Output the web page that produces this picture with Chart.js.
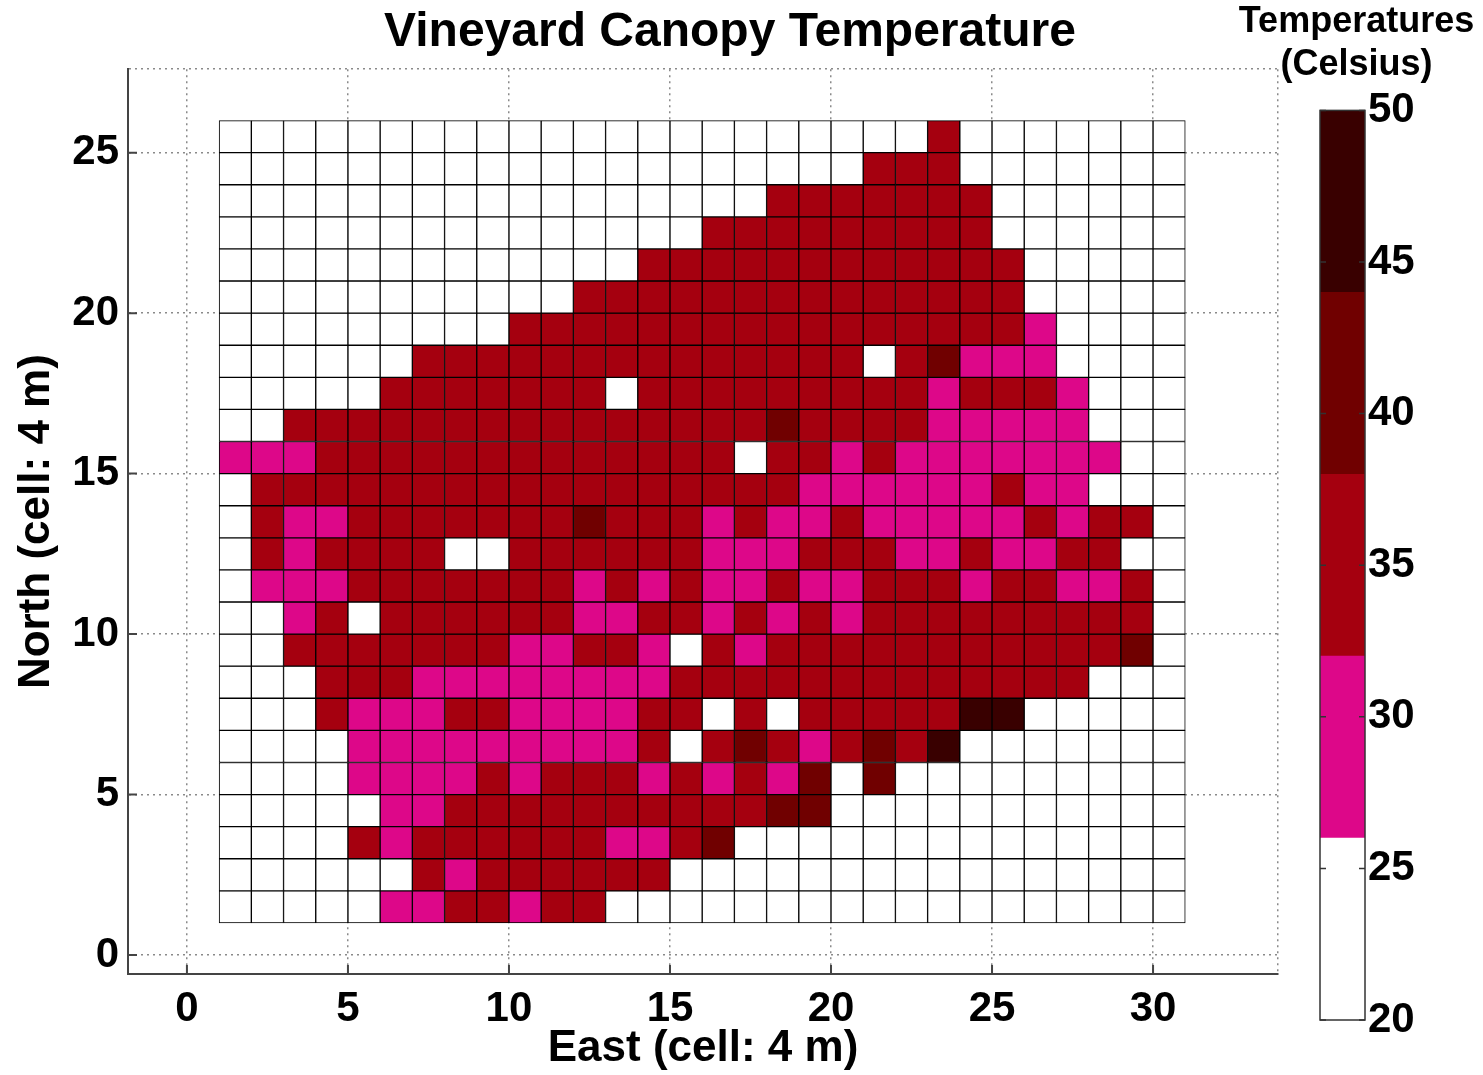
<!DOCTYPE html>
<html>
<head>
<meta charset="utf-8">
<title>Vineyard Canopy Temperature</title>
<script src="https://cdn.jsdelivr.net/npm/chart.js@4.4.1/dist/chart.umd.min.js"></script>
<style>
  body { margin: 0; background: #fff; }
  #wrap { position: relative; width: 1483px; height: 1075px; }
  #heat { position: absolute; left: 0; top: 0; }
  #bar { position: absolute; left: 1230px; top: 0; }
</style>
</head>
<body>
<div id="wrap">
  <canvas id="heat" width="1483" height="1075"></canvas>
  <canvas id="bar" width="253" height="1075"></canvas>
</div>
<script>
// cell classes, one string per row, top row (y = 25..26) first, columns x = 1..30
// '.' = no reading, 1..4 = colour class of the colorbar (26-32, 32-38, 38-44, 44-50 C)
const gridRows = [
  '.......... .......... ..2.......',
  '.......... .......... 222.......',
  '.......... .......222 2222......',
  '.......... .....22222 2222......',
  '.......... ...2222222 22222.....',
  '.......... .222222222 22222.....',
  '.........2 2222222222 222221....',
  '......2222 2222222222 .23111....',
  '.....22222 22.2222222 2212221...',
  '..22222222 2222222322 2211111...',
  '1112222222 222222.221 21111111..',
  '.222222222 2222222211 1111211...',
  '.211222222 2322212112 111112122.',
  '.212222..2 2222211122 21121122..',
  '.111222222 2121211211 222122112.',
  '..12.22222 2112212121 222222222.',
  '..22222221 1221.21222 222222223.',
  '...2221111 1111222222 2222222...',
  '...2111221 11122.2.22 22244.....',
  '....111111 1112.23212 324.......',
  '....111121 222121213. 3.........',
  '.....11222 222222233. ..........',
  '....212222 221123.... ..........',
  '......2122 2222...... ..........',
  '.....11221 22........ ..........'
];
const rowY = [25, 24, 23, 22, 21, 20, 19, 18, 17, 16, 15, 14, 13, 12, 11, 10, 9, 8, 7, 6, 5, 4, 3, 2, 1];
const colX = [1, 2, 3, 4, 5, 6, 7, 8, 9, 10, 11, 12, 13, 14, 15, 16, 17, 18, 19, 20, 21, 22, 23, 24, 25, 26, 27, 28, 29, 30];
const classTemp = { '.': null, '1': 29, '2': 35, '3': 41, '4': 47 };

const binEdges = [20, 26, 32, 38, 44, 50];
const binColors = ['#ffffff', '#dd0789', '#a5000f', '#700000', '#390000'];

const xTicks = [0, 5, 10, 15, 20, 25, 30];
const yTicks = [0, 5, 10, 15, 20, 25];
const barTicks = [20, 25, 30, 35, 40, 45, 50];

const X_MIN = -1.83, X_MAX = 33.88, Y_MIN = -0.59, Y_MAX = 27.6;

Chart.defaults.font.family = "'Liberation Sans', Arial, sans-serif";
Chart.defaults.font.weight = 'bold';
Chart.defaults.color = '#000';

const tickFont = { size: 42, weight: 'bold' };

function colorOf(t) {
    if (t === null) return '#ffffff';
    for (let k = 0; k < binColors.length; k++) {
        if (t >= binEdges[k] && t < binEdges[k + 1]) return binColors[k];
    }
    return binColors[binColors.length - 1];
}

const datasets = gridRows.map((row, r) => {
    const cells = row.replace(/ /g, '').split('');
    const temps = cells.map(c => classTemp[c]);
    return {
        label: 'y' + rowY[r],
        data: temps.map((t, k) => ({ x: colX[k] + 0.5, y: [rowY[r], rowY[r] + 1] })),
        backgroundColor: temps.map(colorOf),
        borderColor: '#000',
        borderWidth: 1,
        borderSkipped: false,
        grouped: false,
        barPercentage: 1,
        categoryPercentage: 1,
        xAxisID: 'x',
        yAxisID: 'y'
    };
});

// inward tick marks like the original axes
const axisTicks = {
    id: 'axisTicks',
    afterDraw(chart) {
        const { ctx, chartArea: a, scales: { x, y } } = chart;
        ctx.save();
        ctx.strokeStyle = '#444';
        ctx.lineWidth = 2;
        ctx.beginPath();
        xTicks.forEach(v => {
            const px = x.getPixelForValue(v);
            ctx.moveTo(px, a.bottom);
            ctx.lineTo(px, a.bottom - 9);
        });
        yTicks.forEach(v => {
            const py = y.getPixelForValue(v);
            ctx.moveTo(a.left, py);
            ctx.lineTo(a.left + 9, py);
        });
        ctx.stroke();
        ctx.restore();
    }
};

const heatConfig = {
    type: 'bar',
    data: { datasets: datasets },
    options: {
        responsive: false,
        animation: false,
        events: [],
        layout: { padding: { left: 0, right: 23, top: 0, bottom: 0 } },
        plugins: {
            legend: { display: false },
            tooltip: { enabled: false },
            title: {
                display: true,
                text: 'Vineyard Canopy Temperature',
                font: { size: 48, weight: 'bold', lineHeight: 1.15 },
                color: '#000',
                padding: { top: 5, bottom: 9 }
            }
        },
        scales: {
            x: {
                type: 'linear',
                min: X_MIN,
                max: X_MAX,
                offset: false,
                afterBuildTicks: s => { s.ticks = xTicks.concat([X_MAX]).map(v => ({ value: v })); },
                afterFit: s => { s.height = 101; },
                ticks: {
                    font: tickFont,
                    padding: 10,
                    maxRotation: 0,
                    callback: v => xTicks.includes(v) ? v : ''
                },
                grid: { offset: false, color: '#8a8a8a', lineWidth: 1.5, drawTicks: false },
                border: { display: true, color: '#444', width: 2, dash: [2, 4] },
                title: {
                    display: true,
                    text: 'East (cell: 4 m)',
                    font: { size: 44, weight: 'bold' },
                    padding: { top: 0, bottom: 0 }
                }
            },
            y: {
                type: 'linear',
                min: Y_MIN,
                max: Y_MAX,
                afterBuildTicks: s => { s.ticks = yTicks.concat([Y_MAX]).map(v => ({ value: v })); },
                afterFit: s => { s.width = 128; },
                ticks: {
                    font: tickFont,
                    padding: 9,
                    callback: v => yTicks.includes(v) ? v : ''
                },
                grid: { color: '#8a8a8a', lineWidth: 1.5, drawTicks: false },
                border: { display: true, color: '#444', width: 2, dash: [2, 4] },
                title: {
                    display: true,
                    text: 'North (cell: 4 m)',
                    font: { size: 44, weight: 'bold' },
                    padding: { top: 10, bottom: 0 }
                }
            },
            // empty strip that leaves room for the colorbar
            side: {
                type: 'linear',
                position: 'right',
                display: true,
                afterFit: s => { s.width = 182; },
                ticks: { display: false },
                grid: { display: false },
                border: { display: false }
            }
        }
    },
    plugins: [axisTicks]
};

const heatChart = new Chart(document.getElementById('heat'), heatConfig);

// colorbar outline and small inner tick marks
const barFrame = {
    id: 'barFrame',
    afterDatasetsDraw(chart) {
        const { ctx, chartArea: a, scales: { y } } = chart;
        ctx.save();
        ctx.strokeStyle = '#333';
        ctx.lineWidth = 1.5;
        ctx.strokeRect(a.left, a.top, a.right - a.left, a.bottom - a.top);
        ctx.beginPath();
        barTicks.forEach(v => {
            const py = y.getPixelForValue(v);
            ctx.moveTo(a.left, py);
            ctx.lineTo(a.left + 6, py);
            ctx.moveTo(a.right, py);
            ctx.lineTo(a.right - 6, py);
        });
        ctx.stroke();
        ctx.restore();
    }
};

const barConfig = {
    type: 'bar',
    data: {
        labels: [''],
        datasets: binColors.map((c, k) => ({
            label: binEdges[k] + '-' + binEdges[k + 1],
            data: [[binEdges[k], binEdges[k + 1]]],
            backgroundColor: c,
            borderWidth: 0,
            grouped: false,
            barPercentage: 1,
            categoryPercentage: 1,
            xAxisID: 'x',
            yAxisID: 'y'
        }))
    },
    options: {
        responsive: false,
        animation: false,
        events: [],
        layout: { padding: { left: 0, right: 0, top: 0, bottom: 55 } },
        plugins: {
            legend: { display: false },
            tooltip: { enabled: false },
            title: {
                display: true,
                text: ['Temperatures', '(Celsius)'],
                font: { size: 36, weight: 'bold', lineHeight: 1.2 },
                color: '#000',
                padding: { top: 0, bottom: 24 }
            }
        },
        scales: {
            x: { display: false },
            y: {
                position: 'right',
                min: binEdges[0],
                max: binEdges[binEdges.length - 1],
                afterBuildTicks: s => { s.ticks = barTicks.map(v => ({ value: v })); },
                afterFit: s => { s.width = 118; },
                ticks: { font: tickFont, padding: 3 },
                grid: { display: false, drawTicks: false },
                border: { display: false }
            },
            // empty strip left of the colorbar
            pad: {
                type: 'linear',
                position: 'left',
                display: true,
                afterFit: s => { s.width = 90; },
                ticks: { display: false },
                grid: { display: false },
                border: { display: false }
            }
        }
    },
    plugins: [barFrame]
};

const barChart = new Chart(document.getElementById('bar'), barConfig);
</script>
</body>
</html>
